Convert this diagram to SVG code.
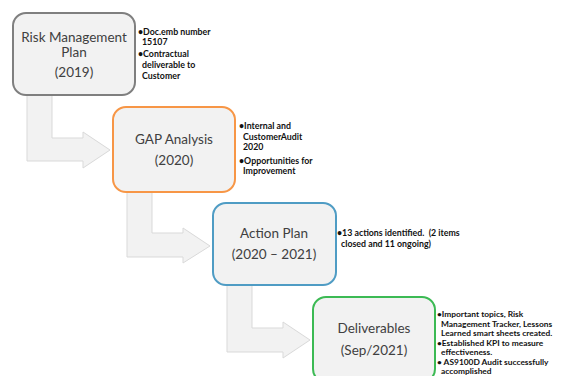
<svg xmlns="http://www.w3.org/2000/svg" width="561" height="376" viewBox="0 0 561 376">
  <style>
    .box { fill: #f2f2f2; stroke-width: 2; }
    .bent { fill: #f2f2f2; stroke: #d9d9d9; stroke-width: 1; }
    .title { font-family: Lato, "Liberation Sans", sans-serif; font-size: 13.5px; fill: #404040; text-anchor: middle; }
    .note { font-family: Lato, "Liberation Sans", sans-serif; font-size: 8.8px; font-weight: bold; fill: #111; }
    .note.small { font-size: 8.4px; }
  </style>
  <rect width="561" height="376" fill="#ffffff"/>

  <!-- bent arrows linking each stage to the next -->
  <g id="connectors">
    <path class="bent" d="M27,95 H52 V138 H83 V132 L110,150 L83,168 V161 H27 Z"/>
    <path class="bent" d="M127,192 H152 V233 H183 V228 L210,246 L183,263 V257 H127 Z"/>
    <path class="bent" d="M227,285 H252 V328 H283 V322 L310,340 L283,358 V352 H227 Z"/>
  </g>

  <g id="risk-plan">
    <rect class="box" x="13" y="13" width="122" height="82" rx="13" stroke="#7f7f7f"/>
    <text class="title" x="74" y="42">Risk Management</text>
    <text class="title" x="74" y="57">Plan</text>
    <text class="title" x="74" y="77">(2019)</text>
    <text class="note" x="138" y="35">•Doc.emb number</text>
    <text class="note" x="142" y="45">15107</text>
    <text class="note" x="138" y="57">•Contractual</text>
    <text class="note" x="142" y="68">deliverable to</text>
    <text class="note" x="142" y="79">Customer</text>
  </g>

  <g id="gap-analysis">
    <rect class="box" x="113" y="107" width="122" height="85" rx="13" stroke="#f79646"/>
    <text class="title" x="174" y="144">GAP Analysis</text>
    <text class="title" x="174" y="165">(2020)</text>
    <text class="note" x="239" y="129">•Internal and</text>
    <text class="note" x="243" y="140">CustomerAudit</text>
    <text class="note" x="243" y="150">2020</text>
    <text class="note" x="239" y="164">•Opportunities for</text>
    <text class="note" x="243" y="174">Improvement</text>
  </g>

  <g id="action-plan">
    <rect class="box" x="213" y="203" width="123" height="82" rx="13" stroke="#4f9cc4"/>
    <text class="title" x="274" y="238">Action Plan</text>
    <text class="title" x="274" y="259">(2020 – 2021)</text>
    <text class="note" x="337" y="236" xml:space="preserve">•13 actions identified.  (2 items</text>
    <text class="note" x="341" y="247">closed and 11 ongoing)</text>
  </g>

  <g id="deliverables">
    <rect class="box" x="313" y="297" width="122" height="85" rx="13" stroke="#3cba54"/>
    <text class="title" x="374" y="333">Deliverables</text>
    <text class="title" x="374" y="355">(Sep/2021)</text>
    <text class="note small" x="437" y="317">•Important topics, Risk</text>
    <text class="note small" x="441" y="327">Management Tracker, Lessons</text>
    <text class="note small" x="441" y="336">Learned smart sheets created.</text>
    <text class="note small" x="437" y="346">•Established KPI to measure</text>
    <text class="note small" x="441" y="355">effectiveness.</text>
    <text class="note small" x="437" y="365">• AS9100D Audit successfully</text>
    <text class="note small" x="441" y="374">accomplished</text>
  </g>
</svg>
